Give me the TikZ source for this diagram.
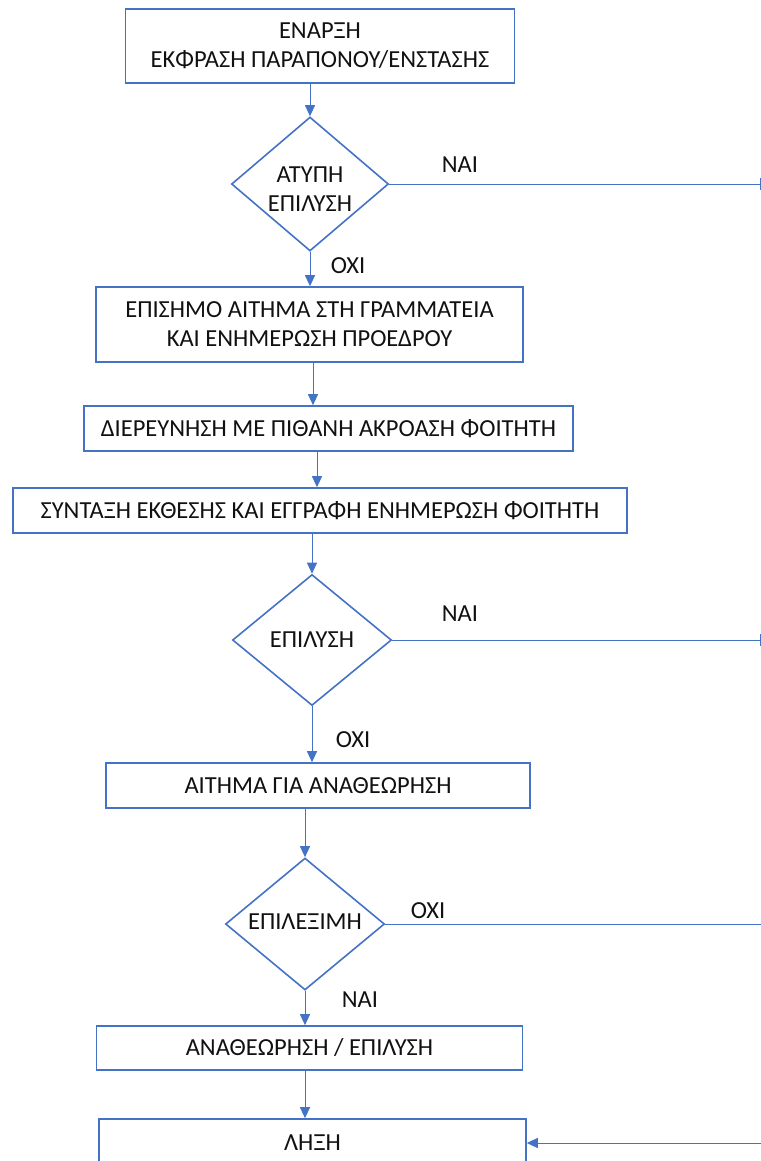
\documentclass[tikz,border=0pt]{standalone}
\usepackage{fontspec}
\setmainfont{Carlito}
\usetikzlibrary{shapes.geometric,arrows.meta}
\definecolor{ofblue}{HTML}{4472C4}
\definecolor{txt}{HTML}{111111}
\tikzset{
  every node/.style={font=\fontsize{24.5bp}{29bp}\selectfont, text=txt},
  procbox/.style={draw=ofblue, line width=1.6bp, rectangle, inner sep=0pt, align=center},
  decide/.style={draw=ofblue, line width=1.6bp, diamond, inner sep=0pt, align=center},
  lbl/.style={inner sep=0pt, align=center},
  conn/.style={draw=ofblue, line width=1bp, -{Triangle[width=10bp,length=11bp]}},
  side/.style={draw=ofblue, line width=1bp},
}
\begin{document}
\begin{tikzpicture}[x=1bp,y=-1bp]
\useasboundingbox (0,0) rectangle (761,1161);
\clip (0,0) rectangle (761,1161);
% nodes
\node[procbox, minimum width=389bp, minimum height=74bp] (b1) at (320,46) {ΕΝΑΡΞΗ\\ΕΚΦΡΑΣΗ ΠΑΡΑΠΟΝΟΥ/ΕΝΣΤΑΣΗΣ};
\node[decide, minimum width=157bp, minimum height=134bp] (d1) at (310,184) {};
\node[lbl] (d1t) at (310,189) {ΑΤΥΠΗ\\ΕΠΙΛΥΣΗ};
\node[procbox, minimum width=427bp, minimum height=75bp] (b2) at (309.5,324.5) {ΕΠΙΣΗΜΟ ΑΙΤΗΜΑ ΣΤΗ ΓΡΑΜΜΑΤΕΙΑ\\ΚΑΙ ΕΝΗΜΕΡΩΣΗ ΠΡΟΕΔΡΟΥ};
\node[procbox, minimum width=489bp, minimum height=45bp] (b3) at (328.5,428.5) {ΔΙΕΡΕΥΝΗΣΗ ΜΕ ΠΙΘΑΝΗ ΑΚΡΟΑΣΗ ΦΟΙΤΗΤΗ};
\node[procbox, minimum width=614bp, minimum height=45bp] (b4) at (320,510.5) {ΣΥΝΤΑΞΗ ΕΚΘΕΣΗΣ ΚΑΙ ΕΓΓΡΑΦΗ ΕΝΗΜΕΡΩΣΗ ΦΟΙΤΗΤΗ};
\node[decide, minimum width=159bp, minimum height=131bp] (d2) at (312,640) {};
\node[lbl] (d2t) at (312,640) {ΕΠΙΛΥΣΗ};
\node[procbox, minimum width=424bp, minimum height=45bp] (b5) at (318,785.5) {ΑΙΤΗΜΑ ΓΙΑ ΑΝΑΘΕΩΡΗΣΗ};
\node[decide, minimum width=159bp, minimum height=132bp] (d3) at (305,924) {};
\node[lbl] (d3t) at (305,922) {ΕΠΙΛΕΞΙΜΗ};
\node[procbox, minimum width=426bp, minimum height=44bp] (b6) at (309.5,1048) {ΑΝΑΘΕΩΡΗΣΗ / ΕΠΙΛΥΣΗ};
\node[procbox, minimum width=427bp, minimum height=48bp] (b7) at (312.5,1143) {ΛΗΞΗ};
% labels
\node[lbl] (n1) at (460,165) {ΝΑΙ};
\node[lbl] (o1) at (348,266) {ΟΧΙ};
\node[lbl] (n2) at (460,614) {ΝΑΙ};
\node[lbl] (o2) at (353,740) {ΟΧΙ};
\node[lbl] (o3) at (428,911) {ΟΧΙ};
\node[lbl] (n3) at (360,1000) {ΝΑΙ};
% free ends at the right edge
\coordinate (e1) at (760.5,184);
\coordinate (e2) at (760.5,640);
\coordinate (e3) at (761,924);
\coordinate (e4) at (761,1143);
% connectors
\draw[conn] (b1.south -| d1.north) -- (d1.north);
\draw[conn] (d1.south) -- (d1.south |- b2.north);
\draw[conn] (b2.south -| 313,0) -- (b3.north -| 313,0);
\draw[conn] (b3.south -| 317,0) -- (b4.north -| 317,0);
\draw[conn] (b4.south -| d2.north) -- (d2.north);
\draw[conn] (d2.south) -- (d2.south |- b5.north);
\draw[conn] (b5.south -| d3.north) -- (d3.north);
\draw[conn] (d3.south) -- (d3.south |- b6.north);
\draw[conn] (b6.south -| d3.south) -- (b7.north -| d3.south);
\draw[side, -{Bar[width=12bp]}] (d1.east) -- (e1);
\draw[side, -{Bar[width=12bp]}] (d2.east) -- (e2);
\draw[side] (d3.east) -- (e3);
\draw[conn] (e4) -- (b7.east);
\end{tikzpicture}
\end{document}
